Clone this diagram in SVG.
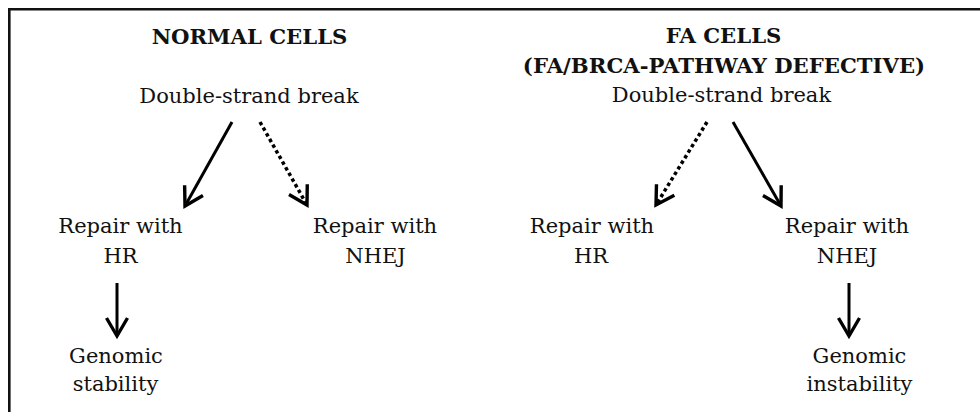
<svg xmlns="http://www.w3.org/2000/svg" width="980" height="412" viewBox="0 0 980 412">
<defs>
<style>
text{font-family:"DejaVu Serif","Liberation Serif",serif;font-size:21px;fill:#111;text-anchor:middle}
.h{font-weight:bold;font-size:21.2px}
.c{fill:none;stroke:#000;stroke-width:3}
.d{stroke-dasharray:3.5 3;stroke-width:3.5}
</style>
<marker id="ah" markerUnits="userSpaceOnUse" viewBox="-22 -13 26 26" refX="0" refY="0" markerWidth="26" markerHeight="26" orient="auto">
<path d="M-18,-10.5 L0,0 L-18,10.5" fill="none" stroke="#000" stroke-width="3.4" stroke-linejoin="miter"/>
</marker>
</defs>
<rect width="980" height="412" fill="#fff"/>
<polyline points="9.3,412 9.3,9.3 980,9.3" fill="none" stroke="#111" stroke-width="2.6"/>
<g id="normal-title"><text class="h" x="249.5" y="44">NORMAL CELLS</text></g>
<g id="normal-dsb"><text x="249" y="103">Double-strand break</text></g>
<g id="normal-hr"><text x="120.5" y="233">Repair with</text><text x="120.5" y="263">HR</text></g>
<g id="normal-nhej"><text x="375" y="233">Repair with</text><text x="375.5" y="263">NHEJ</text></g>
<g id="normal-stability"><text x="116" y="363">Genomic</text><text x="115.5" y="391">stability</text></g>
<g id="fa-title"><text class="h" x="723.5" y="43">FA CELLS</text><text class="h" x="724" y="73">(FA/BRCA-PATHWAY DEFECTIVE)</text></g>
<g id="fa-dsb"><text x="721.5" y="102">Double-strand break</text></g>
<g id="fa-hr"><text x="592" y="233">Repair with</text><text x="591" y="263">HR</text></g>
<g id="fa-nhej"><text x="847" y="233">Repair with</text><text x="847" y="263">NHEJ</text></g>
<g id="fa-instability"><text x="859.5" y="363">Genomic</text><text x="859.5" y="391">instability</text></g>
<g id="connectors">
<line class="c" x1="232" y1="122" x2="185" y2="206" marker-end="url(#ah)"/>
<line class="c d" x1="260" y1="122" x2="307" y2="205" marker-end="url(#ah)"/>
<line class="c" x1="117" y1="283" x2="117" y2="336" marker-end="url(#ah)"/>
<line class="c d" x1="707" y1="122" x2="656" y2="205" marker-end="url(#ah)"/>
<line class="c" x1="733" y1="122" x2="781" y2="206" marker-end="url(#ah)"/>
<line class="c" x1="849" y1="283" x2="849" y2="336" marker-end="url(#ah)"/>
</g>
</svg>
